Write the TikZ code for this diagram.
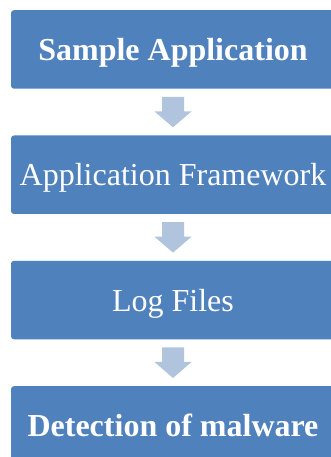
\documentclass[tikz,border=0pt]{standalone}
\usepackage{fontspec}
\setmainfont{Liberation Serif}
\usetikzlibrary{calc}
\definecolor{boxblue}{RGB}{79,129,189}
\definecolor{arrowblue}{RGB}{176,196,222}
\begin{document}
\begin{tikzpicture}[x=1pt,y=1pt,
  stagebox/.style={fill=boxblue, rounded corners=3pt, minimum width=324pt, minimum height=78.5pt,
    inner sep=0pt, text=white, font=\fontsize{32}{36}\selectfont, anchor=north,
    text height=26pt, text depth=4pt},
  flowarrow/.style={fill=arrowblue}]
\clip (0,0) rectangle (331,457);
\useasboundingbox (0,0) rectangle (331,457);
\fill[white] (0,0) rectangle (331,457);
\node[stagebox] (s1) at (173,447) {\textbf{Sample Application}};
\node[stagebox] (s2) at (173,321.7) {Application Framework};
\node[stagebox] (s3) at (173,196.4) {Log Files};
\node[stagebox] (s4) at (173,71) {\textbf{Detection of malware}};
\foreach \a/\b in {s1/s2, s2/s3, s3/s4}{
  \fill[flowarrow] ($(\a.south)+(-11,-8)$) -- ($(\a.south)+(11,-8)$) -- ($(\a.south)+(11,-22.5)$)
    -- ($(\a.south)+(18.5,-22.5)$) -- ($(\b.north)+(0,8)$) -- ($(\a.south)+(-18.5,-22.5)$)
    -- ($(\a.south)+(-11,-22.5)$) -- cycle;
}
\end{tikzpicture}
\end{document}
